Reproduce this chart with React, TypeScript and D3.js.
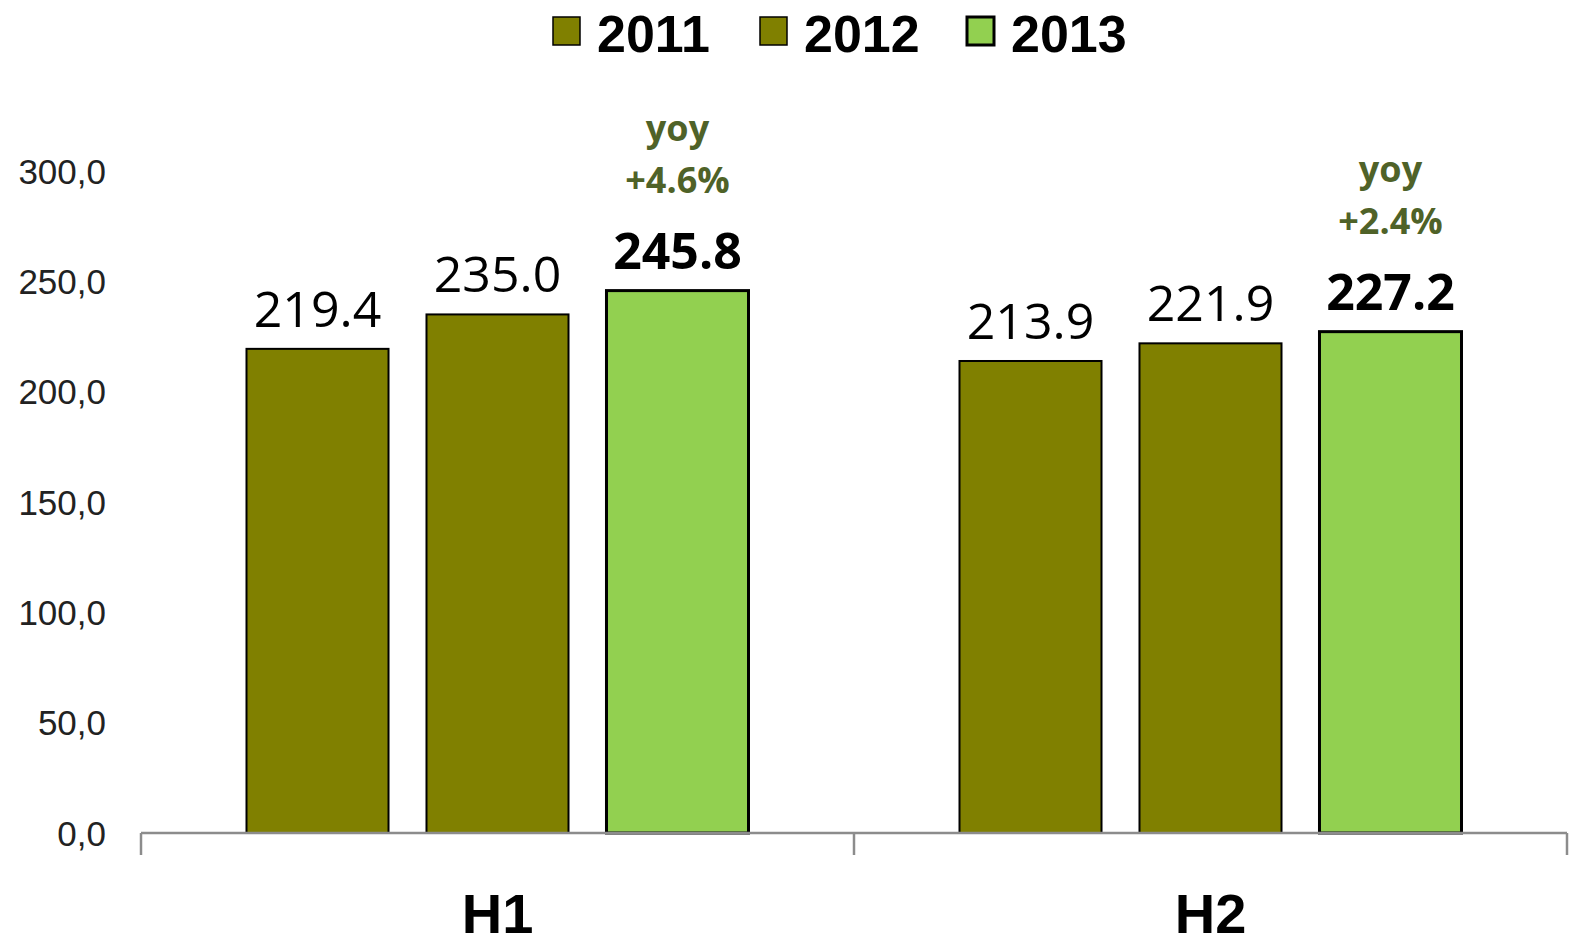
import { useEffect, useRef } from "react";
import * as d3 from "d3";

const categories = ["H1", "H2"];
const years = ["2011", "2012", "2013"];
const values2011 = [219.4, 213.9];
const values2012 = [235.0, 221.9];
const values2013 = [245.8, 227.2];
const yoyLabels = ["+4.6%", "+2.4%"];
const yTicks = [0, 50, 100, 150, 200, 250, 300];

const colors: Record<string, string> = { "2011": "#808000", "2012": "#808000", "2013": "#92D050" };
const labelFont = "'Open Sans', 'DejaVu Sans', sans-serif";
const axisFont = "'Liberation Sans', Arial, sans-serif";

export default function App() {
  const svgRef = useRef<SVGSVGElement>(null);

  useEffect(() => {
    if (!svgRef.current) return;
    const width = 1571;
    const height = 944;
    const svg = d3.select(svgRef.current);
    svg.selectAll("*").remove();
    svg.attr("width", width).attr("height", height);

    const rows = categories.map((c, i) => ({
      cat: c,
      vals: [values2011[i], values2012[i], values2013[i]],
      yoy: yoyLabels[i],
    }));

    // scales
    const x0 = d3.scaleBand<string>().domain(categories).range([141, 1567]).padding(0);
    const y = d3.scaleLinear().domain([0, 300]).range([833, 171]);
    const inner = d3.scaleBand<string>()
      .domain(years)
      .range([105.5, x0.bandwidth() - 105.5])
      .paddingInner(0.211)
      .paddingOuter(0);

    // y tick labels (no axis line)
    svg.append("g")
      .selectAll("text")
      .data(yTicks)
      .enter()
      .append("text")
      .attr("x", 106)
      .attr("y", d => y(d))
      .attr("dy", "0.36em")
      .attr("text-anchor", "end")
      .attr("font-family", axisFont)
      .attr("font-size", 35)
      .attr("fill", "#222")
      .text(d => d3.format(".1f")(d).replace(".", ","));

    // bars
    const groups = svg.selectAll("g.grp")
      .data(rows)
      .enter()
      .append("g")
      .attr("class", "grp")
      .attr("transform", d => `translate(${x0(d.cat)},0)`);

    groups.selectAll("rect")
      .data(d => d.vals.map((v, j) => ({ year: years[j], v })))
      .enter()
      .append("rect")
      .attr("x", d => inner(d.year)!)
      .attr("y", d => y(d.v))
      .attr("width", inner.bandwidth())
      .attr("height", d => y(0) - y(d.v))
      .attr("fill", d => colors[d.year])
      .attr("stroke", "#000")
      .attr("stroke-width", d => (d.year === "2013" ? 3 : 2));

    // value labels
    groups.selectAll("text.val")
      .data(d => d.vals.map((v, j) => ({ year: years[j], v })))
      .enter()
      .append("text")
      .attr("class", "val")
      .attr("x", d => inner(d.year)! + inner.bandwidth() / 2)
      .attr("y", d => y(d.v) - 22)
      .attr("text-anchor", "middle")
      .attr("font-family", labelFont)
      .attr("font-size", 50)
      .attr("font-weight", d => (d.year === "2013" ? 700 : 400))
      .attr("fill", "#000")
      .text(d => d.v.toFixed(1));

    // yoy labels
    const yoyG = groups.append("g")
      .attr("transform", d => `translate(${inner("2013")! + inner.bandwidth() / 2},${y(d.vals[2])})`);
    yoyG.append("text")
      .attr("y", -150)
      .attr("text-anchor", "middle")
      .attr("font-family", labelFont)
      .attr("font-size", 36)
      .attr("font-weight", 700)
      .attr("fill", "#4F6228")
      .text("yoy");
    yoyG.append("text")
      .attr("y", -98)
      .attr("text-anchor", "middle")
      .attr("font-family", labelFont)
      .attr("font-size", 36)
      .attr("font-weight", 700)
      .attr("fill", "#4F6228")
      .text(d => d.yoy);

    // x axis baseline with ticks
    const axis = svg.append("g").attr("stroke", "#8c8c8c").attr("stroke-width", 2.5).attr("fill", "none");
    axis.append("line").attr("x1", 141).attr("x2", 1567).attr("y1", y(0)).attr("y2", y(0));
    const tickXs = [...categories.map(c => x0(c)!), 1567];
    axis.selectAll("line.tick")
      .data(tickXs)
      .enter()
      .append("line")
      .attr("class", "tick")
      .attr("x1", d => d)
      .attr("x2", d => d)
      .attr("y1", y(0))
      .attr("y2", y(0) + 22);

    // category labels
    svg.append("g")
      .selectAll("text")
      .data(categories)
      .enter()
      .append("text")
      .attr("x", d => x0(d)! + x0.bandwidth() / 2)
      .attr("y", 933)
      .attr("text-anchor", "middle")
      .attr("font-family", axisFont)
      .attr("font-size", 56)
      .attr("font-weight", 700)
      .attr("fill", "#000")
      .text(d => d);

    // legend
    const legendX = [553, 760, 967];
    const legend = svg.append("g")
      .selectAll("g")
      .data(years)
      .enter()
      .append("g")
      .attr("transform", (_, i) => `translate(${legendX[i]},17)`);
    legend.append("rect")
      .attr("width", 27)
      .attr("height", 28)
      .attr("fill", d => colors[d])
      .attr("stroke", "#000")
      .attr("stroke-width", d => (d === "2013" ? 3 : 1.5));
    legend.append("text")
      .attr("x", 44)
      .attr("y", 35)
      .attr("font-family", axisFont)
      .attr("font-size", 52)
      .attr("font-weight", 700)
      .attr("fill", "#000")
      .text(d => d);
  }, []);

  return (
    <svg ref={svgRef} style={{ position: "absolute", left: 0, top: 0, background: "#fff" }}></svg>
  );
}
